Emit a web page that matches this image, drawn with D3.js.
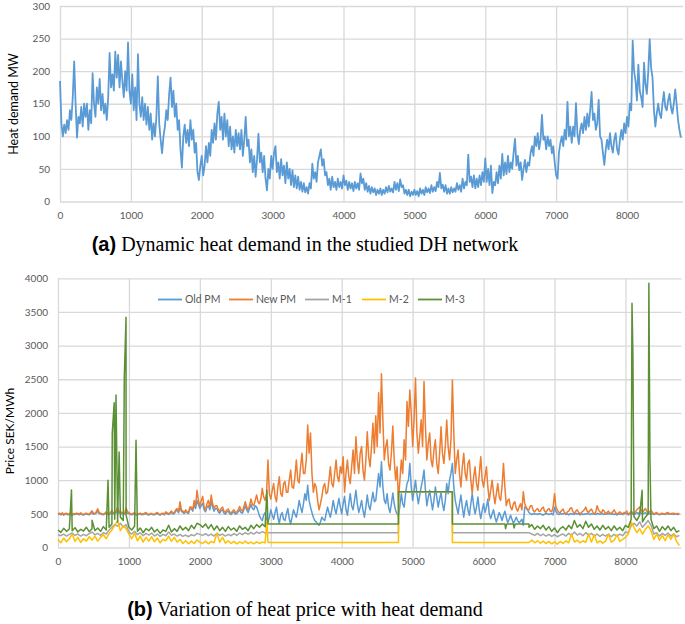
<!DOCTYPE html>
<html><head><meta charset="utf-8">
<script src="https://cdn.jsdelivr.net/npm/d3@7"></script>
<style>body{margin:0;background:#fff} svg{display:block;background:#fff}</style>
</head><body><svg id="c" width="685" height="624"></svg>
<script>
// ---------- DATA ----------
const DENSE_STEP = 20;   // hours between samples of demand / Old PM / New PM
const M_STEP = 40;       // hours between samples of the noisy parts of M-1..M-3
const xTickValues = [0,1000,2000,3000,4000,5000,6000,7000,8000];
const yTicksDemand = [0,50,100,150,200,250,300];
const yTicksPrice = [0,500,1000,1500,2000,2500,3000,3500,4000];
const seriesNames = ["Old PM","New PM","M-1","M-2","M-3"];

// (a) heat demand MW, hours 0..8760 step 20
const demand = [
 185,120,100,118,105,125,110,140,125,160,215,150,98,130,120,145,115,150,130,150,110,140,120,197,150,130,175,150,188,140,165,135,150,125,160,228,175,195,170,230,190,225,175,215,185,160,200,170,244,170,
 150,195,140,175,125,226,150,130,160,125,150,118,145,110,135,95,120,100,130,192,120,95,74,100,115,140,125,165,190,145,170,130,150,110,125,80,52,100,118,90,110,85,125,95,110,75,90,45,33,55,
 70,40,55,85,60,90,70,110,90,120,95,135,153,110,130,95,135,100,125,85,115,80,100,75,110,85,105,80,110,70,95,130,85,95,60,80,45,70,38,65,104,60,75,45,70,35,17,50,35,70,
 50,75,85,45,60,35,65,40,55,28,60,35,50,25,48,22,40,20,38,18,30,15,28,14,22,12,28,20,58,35,45,30,60,70,80,55,65,40,45,25,35,18,38,22,30,18,35,22,30,20,
 40,25,32,18,30,20,28,16,30,20,28,18,43,28,35,18,28,15,24,12,22,14,20,10,18,12,20,10,18,12,22,14,24,15,20,14,30,18,28,16,34,22,25,12,18,10,18,8,15,10,
 18,10,16,8,20,12,18,10,22,14,20,13,25,15,22,16,30,22,44,20,26,15,25,12,20,12,22,14,20,15,28,18,25,15,35,20,30,25,72,30,38,22,40,20,35,22,40,25,45,30,
 66,30,50,25,55,13,30,25,45,28,55,35,73,40,60,42,70,45,60,50,75,96,55,70,48,60,33,50,64,45,60,55,75,85,70,100,85,105,80,95,133,95,100,80,100,85,95,74,85,60,
 40,35,75,90,100,85,110,95,153,100,115,90,115,100,151,105,88,110,120,105,130,110,135,115,140,168,125,135,110,120,156,100,95,75,56,80,95,80,105,85,75,95,105,80,72,95,110,95,120,105,
 130,115,150,140,247,200,185,155,210,170,160,145,213,180,165,200,249,205,190,140,115,135,150,135,128,150,168,145,140,155,165,145,135,150,172,150,125,110,98
];

// (b) Old PM, hours 0..8760 step 20
const oldPM = [
 490,500,485,505,480,495,500,485,490,505,480,495,490,500,495,485,505,490,480,495,500,490,485,505,520,495,500,510,540,505,500,490,485,500,510,495,490,505,520,500,505,520,540,510,520,500,505,495,530,510,
 505,490,485,495,500,485,480,495,500,485,490,495,505,490,480,495,495,485,485,500,505,490,480,495,500,485,515,500,490,505,525,495,505,540,560,515,600,540,520,505,540,515,505,570,580,540,640,580,700,640,
 580,620,660,560,530,600,620,560,680,600,540,580,580,530,510,550,560,510,495,530,540,505,490,515,530,495,505,530,560,520,510,560,620,560,520,580,640,580,560,620,600,540,470,430,400,480,520,420,380,450,
 560,480,420,520,600,450,360,480,520,420,400,500,580,430,350,450,560,500,450,560,700,600,520,650,800,700,925,700,600,520,450,400,380,350,330,380,450,420,400,500,600,520,450,560,700,580,500,620,730,600,
 500,650,760,560,480,650,800,620,560,700,850,650,520,600,700,550,450,600,780,620,560,700,820,680,700,900,1100,900,1275,900,700,650,800,600,520,650,810,650,550,500,470,620,800,650,600,800,950,1000,1250,900,
 700,850,1000,800,650,780,900,1000,1150,850,620,750,850,700,560,700,900,750,600,720,820,650,550,700,950,800,1000,1100,1250,900,700,600,500,650,780,600,450,600,700,550,480,650,800,620,500,600,750,550,430,550,
 650,520,600,720,500,430,500,560,450,380,450,520,470,400,480,540,450,370,420,480,420,360,400,450,400,370,390,420,330,600,590,560,520,500,490,505,495,500,490,505,500,490,480,495,505,500,490,500,500,485,
 600,540,500,490,505,495,500,510,490,500,485,505,495,500,490,510,495,500,485,505,490,500,495,505,500,490,505,495,500,490,505,500,495,500,505,490,500,495,505,500,495,500,490,505,485,500,495,500,490,505,
 505,500,485,500,510,495,490,505,520,500,530,510,500,505,520,500,495,505,510,500,490,500,505,495,485,500,495,500,490,505,495,500,495,500,490,505,495,490,500
];

// (b) New PM, hours 0..8760 step 20
const newPM = [
 500,510,495,515,490,505,510,495,500,520,485,505,500,510,505,495,515,500,490,505,510,500,495,520,545,510,505,530,575,520,510,500,495,510,530,505,500,520,550,510,520,540,600,530,540,510,520,505,590,530,
 520,500,495,510,515,495,490,505,510,495,500,510,520,500,490,505,505,495,495,510,520,500,490,505,510,495,530,515,500,520,540,510,520,560,580,530,680,560,540,520,560,530,520,600,600,560,700,620,850,700,
 620,700,760,600,560,650,700,600,780,650,580,620,620,560,540,580,600,540,520,560,570,530,510,540,560,520,530,560,610,560,540,600,680,600,560,620,720,640,620,700,780,680,650,720,880,750,700,800,1300,800,
 720,850,950,760,680,900,1050,800,760,950,980,820,820,1000,1150,900,880,1050,1300,1000,960,1200,1400,1100,1100,1300,1820,1400,1700,1100,820,950,900,700,560,650,760,900,950,800,820,1000,1200,950,900,1100,1300,1050,980,1200,
 1100,1350,820,1100,1300,1050,950,1200,1450,1100,1646,1300,1100,1400,1500,1150,1000,1300,1720,1350,1200,1500,1845,1400,1958,1500,2300,1700,2580,1900,1300,1500,1600,1250,1150,1400,1805,1300,1000,1200,700,1000,1300,1100,1600,1300,2170,1800,2340,2000,
 1500,1900,2520,1700,1400,1650,1900,1500,2465,1800,1300,1550,1700,1300,1200,1450,1600,1250,1100,1400,1795,1400,1250,1500,1895,1500,1300,1600,2490,1700,1100,1300,1450,1100,900,1200,1400,1100,1000,1250,1300,1000,800,1050,1200,950,850,1100,1350,1000,
 900,1050,1200,900,700,850,1000,800,650,800,950,750,700,900,1250,900,620,700,720,600,560,650,680,580,540,600,650,560,830,650,600,560,560,620,620,550,530,560,580,540,540,580,600,540,520,560,580,540,530,600,
 800,600,560,520,520,550,570,520,500,530,540,580,590,530,510,540,560,520,500,520,540,560,600,540,520,550,570,530,500,520,620,560,530,510,560,540,500,520,540,510,510,530,560,520,495,510,530,510,500,520,
 520,540,490,510,540,520,500,530,560,580,600,560,520,550,580,540,510,530,550,520,500,510,520,500,490,505,510,500,500,515,520,505,495,510,510,500,500,505,505
];

// M-1 / M-2 / M-3: noisy winter part (hours 0..2960 step 40),
// piecewise-flat summer part [hour, value], noisy autumn part (hours 6640..8760 step 40)
const AUTUMN_START = 6640;
const m1Winter = [
 190,175,200,170,195,215,180,200,170,195,175,205,230,190,210,180,220,200,260,300,340,320,360,300,340,
 230,200,240,190,220,175,210,185,215,170,200,165,195,175,230,180,200,170,195,165,185,160,190,175,210,
 195,180,205,175,200,170,210,180,200,170,195,175,205,180,215,190,220,195,225,200,230,210,235,215,220
];
const m1Summer = [[2960,220],[4800,220],[4800,830],[5560,830],[5560,220],[6640,220]];
const m1Autumn = [
 220,200,180,210,175,200,170,195,165,
 190,160,185,200,170,210,180,230,185,210,175,220,185,210,170,200,165,195,170,200,160,195,170,200,175,
 230,220,320,360,320,380,300,350,400,330,200,220,170,210,180,215,170,205,160,180
];

const m2Winter = [
 120,70,140,85,130,200,90,150,75,130,95,160,110,170,95,150,190,130,210,260,330,400,250,320,280,
 200,130,210,100,170,80,150,95,160,85,140,70,120,100,170,90,150,80,120,60,100,55,95,60,110,
 80,60,95,55,90,70,210,80,150,65,100,60,90,55,85,60,95,60,80,55,85,60,80,70,75
];
const m2Spikes = [[2945,400]];
const m2Summer = [[2960,75],[4800,75],[4800,830],[5560,830],[5560,75],[6640,75]];
const m2Autumn = [
 75,110,70,100,65,95,60,90,55,
 85,50,90,60,100,70,200,80,110,70,100,75,200,80,190,70,100,65,95,200,80,105,190,90,120,
 150,200,380,300,220,280,200,270,320,250,120,200,110,180,100,190,120,200,90,30
];

const m3Winter = [
 260,225,285,240,275,250,295,230,270,245,300,235,280,250,290,240,310,260,300,350,420,380,450,400,480,
 300,260,320,240,290,220,280,250,300,230,270,210,260,240,330,230,280,240,320,260,300,250,330,280,360,
 340,300,350,280,340,260,320,250,300,240,310,260,290,240,320,270,300,250,330,280,340,300,350,310,350
];
const m3Spikes = [[190,855],[480,406],[705,1000],[765,1700],[792,2150],[818,2265],[862,1420],
 [935,2550],[959,3420],[1100,1595],[2945,850],[8092,3630],[8105,2860],[8235,850],[8330,3925],[8345,1330]];
const m3Summer = [[2960,350],[4800,350],[4800,830],[5560,830],[5560,350],[6300,350],[6310,280],[6325,350],
 [6420,350],[6430,290],[6445,350],[6640,350]];
const m3Autumn = [
 300,340,270,320,280,330,260,310,240,
 290,220,280,310,260,330,280,400,300,340,280,390,300,350,270,320,260,330,270,310,250,320,260,300,250,
 330,300,420,460,400,480,380,450,500,420,280,320,240,310,260,320,250,300,230,250
];

const seriesColors = ["#5B9BD5","#ED7D31","#A5A5A5","#FFC000","#5B9035"];

// ---------- helpers ----------
const stepped = (vals, start, step) => vals.map((v,i) => [start + i*step, v]);
function combine(winter, summer, autumn, spikes) {
  const pts = stepped(winter, 0, M_STEP).concat(summer, stepped(autumn, AUTUMN_START, M_STEP), spikes || []);
  return pts.map((p,i)=>({h:p[0], v:p[1], i})).sort((a,b)=>a.h-b.h || a.i-b.i).map(p=>[p.h,p.v]);
}

const svg = d3.select("#c");
const gridColor = "#d9d9d9";
const tickColor = "#595959";
const tickFont = "Lato, 'Open Sans', sans-serif";

function drawFrame(x, y, xTicks, yTicks, top, bottom, left, right) {
  const gx = svg.append("g").attr("transform", `translate(0,${bottom})`)
    .call(d3.axisBottom(x).tickValues(xTicks).tickSize(-(bottom-top)).tickPadding(10.5).tickFormat(d3.format("d")));
  const gy = svg.append("g").attr("transform", `translate(${left},0)`)
    .call(d3.axisLeft(y).tickValues(yTicks).tickSize(-(right-left)).tickPadding(10).tickFormat(d3.format("d")));
  [gx, gy].forEach(g => {
    g.select(".domain").remove();
    g.selectAll(".tick line").attr("stroke", gridColor).attr("stroke-width", 1.3);
    g.selectAll(".tick text").attr("fill", tickColor).style("font-family", tickFont).style("font-size", "10px");
  });
}

// ---------- (a) heat demand ----------
const xA = d3.scaleLinear().domain([0, 8790]).range([60, 683]);
const yA = d3.scaleLinear().domain([0, 300]).range([201.5, 6]);
drawFrame(xA, yA, xTickValues, yTicksDemand, 6, 201.5, 60, 683);
svg.append("path").datum(stepped(demand, 0, DENSE_STEP))
  .attr("fill","none").attr("stroke","#5B9BD5").attr("stroke-width",1.8).attr("stroke-linejoin","round")
  .attr("d", d3.line().x(d=>xA(d[0])).y(d=>yA(d[1])));
svg.append("text").attr("transform","translate(17.5,104) rotate(-90)").attr("text-anchor","middle")
  .style("font-family", tickFont).style("font-size","12.5px").attr("fill","#000").text("Heat demand MW");

svg.append("text").attr("x",305).attr("y",250.5).attr("text-anchor","middle").style("font-size","20px")
  .call(t => {
    t.append("tspan").style("font-family","'Liberation Sans', Arial, sans-serif").style("font-weight","bold").text("(a)");
    t.append("tspan").style("font-family","'Liberation Serif', 'Times New Roman', serif").text(" Dynamic heat demand in the studied DH network");
  });

// ---------- (b) heat price ----------
const xB = d3.scaleLinear().domain([0, 8790]).range([58, 681.5]);
const yB = d3.scaleLinear().domain([0, 4000]).range([547.5, 278.3]);
drawFrame(xB, yB, xTickValues, yTicksPrice, 278.3, 547.5, 58, 681.5);

const seriesData = [
  stepped(oldPM, 0, DENSE_STEP),
  stepped(newPM, 0, DENSE_STEP),
  combine(m1Winter, m1Summer, m1Autumn),
  combine(m2Winter, m2Summer, m2Autumn, m2Spikes),
  combine(m3Winter, m3Summer, m3Autumn, m3Spikes)
];
const lineB = d3.line().x(d=>xB(d[0])).y(d=>yB(d[1]));
seriesData.forEach((pts, k) => {
  svg.append("path").datum(pts).attr("fill","none").attr("stroke", seriesColors[k])
    .attr("stroke-width", 1.5).attr("stroke-linejoin","round").attr("d", lineB);
});

// legend
const legendX = [158, 229, 305, 362, 418];
const legendY = 299.5;
seriesNames.forEach((name, k) => {
  svg.append("line").attr("x1", legendX[k]).attr("x2", legendX[k]+24).attr("y1", legendY).attr("y2", legendY)
    .attr("stroke", seriesColors[k]).attr("stroke-width", 1.8);
  svg.append("text").attr("x", legendX[k]+27).attr("y", legendY+3.8).attr("fill", tickColor)
    .style("font-family", tickFont).style("font-size","10.5px").text(name);
});

svg.append("text").attr("transform","translate(14,431) rotate(-90)").attr("text-anchor","middle")
  .style("font-family", tickFont).style("font-size","12px").attr("fill","#000").text("Price SEK/MWh");

svg.append("text").attr("x",305).attr("y",616).attr("text-anchor","middle").style("font-size","20px")
  .call(t => {
    t.append("tspan").style("font-family","'Liberation Sans', Arial, sans-serif").style("font-weight","bold").text("(b)");
    t.append("tspan").style("font-family","'Liberation Serif', 'Times New Roman', serif").text(" Variation of heat price with heat demand");
  });
</script></body></html>
